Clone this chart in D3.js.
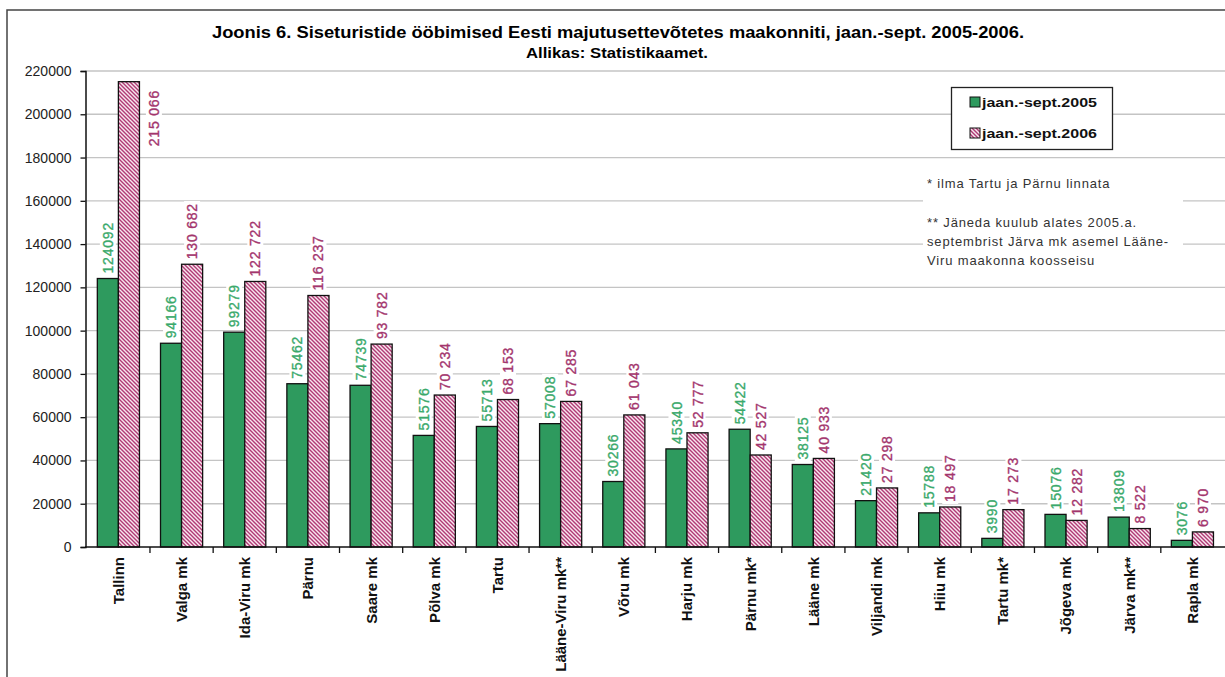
<!DOCTYPE html>
<html>
<head>
<meta charset="utf-8">
<script src="https://cdn.jsdelivr.net/npm/d3@7"></script>
<style>
  body { margin: 0; background: #fff; }
  svg { display: block; font-family: "Liberation Sans", Arial, sans-serif; }
</style>
</head>
<body>
<svg id="chart" width="1225" height="677"></svg>
<script>
// chart data
const categories = ["Tallinn", "Valga mk", "Ida-Viru mk", "Pärnu", "Saare mk", "Põlva mk", "Tartu",
  "Lääne-Viru mk**", "Võru mk", "Harju mk", "Pärnu mk*", "Lääne  mk", "Viljandi mk", "Hiiu mk",
  "Tartu mk*", "Jõgeva mk", "Järva mk**", "Rapla mk"];
const values2005 = [124092, 94166, 99279, 75462, 74739, 51576, 55713, 57008, 30266, 45340, 54422,
  38125, 21420, 15788, 3990, 15076, 13809, 3076];
const values2006 = [215066, 130682, 122722, 116237, 93782, 70234, 68153, 67285, 61043, 52777, 42527,
  40933, 27298, 18497, 17273, 12282, 8522, 6970];
const seriesNames = ["jaan.-sept.2005", "jaan.-sept.2006"];
const yTickValues = [0, 20000, 40000, 60000, 80000, 100000, 120000, 140000, 160000, 180000, 200000, 220000];
const notes = ["* ilma Tartu ja Pärnu linnata", "", "** Jäneda kuulub alates 2005.a.",
  "septembrist Järva mk asemel Lääne-", "Viru maakonna koosseisu"];

const GREEN = "#2e9a5e";
const GREEN_LABEL = "#3aa96b";
const PINK = "#b03a75";
const PINK_LABEL = "#a3356d";

const svg = d3.select("#chart");

// hatch pattern for 2006
const defs = svg.append("defs");
const pat = defs.append("pattern")
  .attr("id", "hatch")
  .attr("patternUnits", "userSpaceOnUse")
  .attr("width", 4).attr("height", 4);
pat.append("rect").attr("width", 4).attr("height", 4).attr("fill", "#f8e6ee");
pat.append("path")
  .attr("d", "M0,0 L4,4 M-1,3 L1,5 M3,-1 L5,1")
  .attr("stroke", PINK).attr("stroke-width", 1.4);

// outer frame
svg.append("path")
  .attr("d", "M7,700 L7,10 L1230,10")
  .attr("fill", "none").attr("stroke", "#444").attr("stroke-width", 1.5);

// title
svg.append("text")
  .attr("x", 618).attr("y", 38)
  .attr("text-anchor", "middle")
  .attr("font-size", 16).attr("font-weight", "bold")
  .attr("textLength", 812).attr("lengthAdjust", "spacingAndGlyphs")
  .text("Joonis 6. Siseturistide ööbimised Eesti majutusettevõtetes maakonniti, jaan.-sept. 2005-2006.");
svg.append("text")
  .attr("x", 617).attr("y", 58)
  .attr("text-anchor", "middle")
  .attr("font-size", 14).attr("font-weight", "bold")
  .attr("textLength", 182).attr("lengthAdjust", "spacingAndGlyphs")
  .text("Allikas: Statistikaamet.");

// scales
const x = d3.scaleBand().domain(categories).range([86.8, 1224]).padding(0);
const y = d3.scaleLinear().domain([0, 220000]).range([547, 71]);
const bw = x.bandwidth() / 3;

// gridlines
svg.append("g")
  .selectAll("line")
  .data(yTickValues.slice(1))
  .join("line")
  .attr("x1", 85).attr("x2", 1225)
  .attr("y1", d => y(d)).attr("y2", d => y(d))
  .attr("stroke", "#c4c4c4").attr("stroke-width", 1.3);

// bars
const bars = svg.append("g");
bars.selectAll(".b05")
  .data(categories)
  .join("rect")
  .attr("x", d => x(d) + x.bandwidth() / 2 - bw)
  .attr("y", (d, i) => y(values2005[i]))
  .attr("width", bw)
  .attr("height", (d, i) => y(0) - y(values2005[i]))
  .attr("fill", GREEN).attr("stroke", "#111").attr("stroke-width", 1.3);
bars.selectAll(".b06")
  .data(categories)
  .join("rect")
  .attr("x", d => x(d) + x.bandwidth() / 2)
  .attr("y", (d, i) => y(values2006[i]))
  .attr("width", bw)
  .attr("height", (d, i) => y(0) - y(values2006[i]))
  .attr("fill", "url(#hatch)").attr("stroke", "#111").attr("stroke-width", 1.3);

// y axis
const yAxis = svg.append("g")
  .attr("transform", "translate(85.5,0)")
  .call(d3.axisLeft(y).tickValues(yTickValues).tickFormat(d3.format("d")).tickSize(5).tickPadding(9));
yAxis.select(".domain").attr("stroke", "#111").attr("stroke-width", 1.5);
yAxis.selectAll(".tick line").attr("stroke", "#111").attr("stroke-width", 1.3);
yAxis.selectAll("text").attr("font-size", 14).attr("fill", "#222")
  .attr("font-family", "Liberation Sans, Arial, sans-serif");

// x axis baseline and ticks between categories
svg.append("line")
  .attr("x1", 85).attr("x2", 1225).attr("y1", y(0)).attr("y2", y(0))
  .attr("stroke", "#111").attr("stroke-width", 1.5);
svg.append("g")
  .selectAll("line")
  .data(categories.slice(1))
  .join("line")
  .attr("x1", d => x(d)).attr("x2", d => x(d))
  .attr("y1", y(0)).attr("y2", y(0) + 6)
  .attr("stroke", "#111").attr("stroke-width", 1.3);

// category labels
svg.append("g")
  .selectAll("text")
  .data(categories)
  .join("text")
  .attr("transform", d => `translate(${x(d) + x.bandwidth() / 2},557) rotate(-90)`)
  .attr("dy", "0.36em")
  .attr("text-anchor", "end")
  .attr("font-size", 15).attr("font-weight", "bold").attr("fill", "#111")
  .text(d => d);

// value labels with white backgrounds
const fmt06 = d3.formatLocale({ decimal: ",", thousands: " ", grouping: [3], currency: ["", ""] }).format(",d");
const labelLayer = svg.append("g");

function addLabel(cx, barTop, txt, color) {
  const g = labelLayer.append("g");
  const bg = g.append("rect").attr("fill", "#fff");
  const t = g.append("text")
    .attr("dy", "0.36em")
    .attr("font-size", 14).attr("letter-spacing", 0.8)
    .attr("fill", color).attr("stroke", color).attr("stroke-width", 0.35)
    .text(txt);
  const len = t.node().getComputedTextLength();
  let px = cx, py = barTop - 5;
  // no room above the bar: Excel pushes the label inside the plot area, beside the bar
  if (py - len < y(220000) + 18) {
    px = cx + 25;
    py = y(220000) + 19 + len;
  }
  t.attr("transform", `translate(${px},${py}) rotate(-90)`);
  bg.attr("x", px - 8).attr("y", py - len - 2).attr("width", 16).attr("height", len + 4);
}

categories.forEach((c, i) => {
  const cx = x(c) + x.bandwidth() / 2;
  addLabel(cx - bw / 2, y(values2005[i]), String(values2005[i]), GREEN_LABEL);
  addLabel(cx + bw / 2, y(values2006[i]), fmt06(values2006[i]), PINK_LABEL);
});

// legend
const legend = svg.append("g");
legend.append("rect")
  .attr("x", 951.5).attr("y", 87.5).attr("width", 161).attr("height", 62)
  .attr("fill", "#fff").attr("stroke", "#222").attr("stroke-width", 1.3);
seriesNames.forEach((name, i) => {
  const ly = 97 + i * 31;
  legend.append("rect")
    .attr("x", 970).attr("y", ly).attr("width", 10).attr("height", 10)
    .attr("fill", i === 0 ? GREEN : "url(#hatch)")
    .attr("stroke", "#111").attr("stroke-width", 1);
  legend.append("text")
    .attr("x", 982).attr("y", ly + 10)
    .attr("font-size", 13.5).attr("font-weight", "bold").attr("fill", "#111")
    .attr("textLength", 115).attr("lengthAdjust", "spacingAndGlyphs")
    .text(name);
});

// footnotes
const noteBox = svg.append("g");
noteBox.append("rect")
  .attr("x", 923).attr("y", 172).attr("width", 260).attr("height", 100)
  .attr("fill", "#fff");
noteBox.selectAll("text")
  .data(notes)
  .join("text")
  .attr("x", 927)
  .attr("y", (d, i) => 188 + i * 19.3)
  .attr("font-size", 13).attr("letter-spacing", 0.85).attr("fill", "#333")
  .text(d => d);
</script>
</body>
</html>
